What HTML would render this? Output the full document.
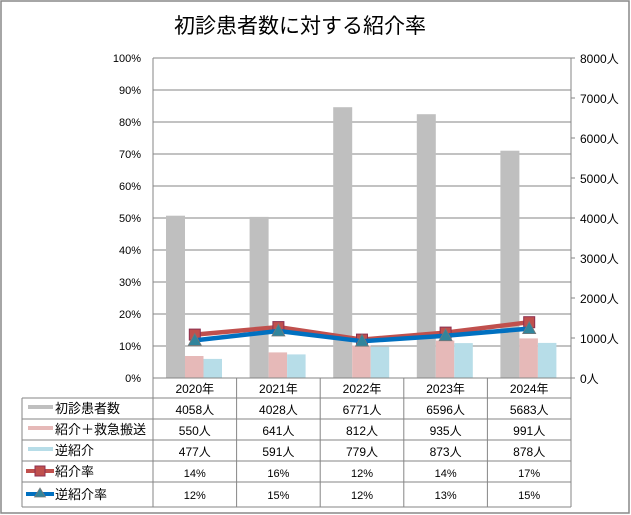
<!DOCTYPE html>
<html><head><meta charset="utf-8"><style>
body{margin:0;background:#fff}
svg{display:block;font-family:"Liberation Sans","Noto Sans CJK JP",sans-serif}
</style></head><body>
<svg width="631" height="515" viewBox="0 0 631 515" xmlns="http://www.w3.org/2000/svg">
<rect x="1" y="1" width="628" height="512" fill="#fff" stroke="#888" stroke-width="1.5"/>
<text x="300" y="33" font-size="21" text-anchor="middle" fill="#000">初診患者数に対する紹介率</text>
<g stroke="#868686" stroke-width="1">
<line x1="153" y1="58" x2="571" y2="58"/><line x1="153" y1="90" x2="571" y2="90"/>
<line x1="153" y1="122" x2="571" y2="122"/><line x1="153" y1="154" x2="571" y2="154"/>
<line x1="153" y1="186" x2="571" y2="186"/><line x1="153" y1="218" x2="571" y2="218"/>
<line x1="153" y1="250" x2="571" y2="250"/><line x1="153" y1="282" x2="571" y2="282"/>
<line x1="153" y1="314" x2="571" y2="314"/><line x1="153" y1="346" x2="571" y2="346"/>
<line x1="153" y1="58" x2="153" y2="378"/><line x1="571" y1="58" x2="571" y2="378"/>
<line x1="571" y1="58" x2="575" y2="58"/><line x1="571" y1="98" x2="575" y2="98"/>
<line x1="571" y1="138" x2="575" y2="138"/><line x1="571" y1="178" x2="575" y2="178"/>
<line x1="571" y1="218" x2="575" y2="218"/><line x1="571" y1="258" x2="575" y2="258"/>
<line x1="571" y1="298" x2="575" y2="298"/><line x1="571" y1="338" x2="575" y2="338"/>
<line x1="571" y1="378" x2="575" y2="378"/>
</g>
<g font-size="11" text-anchor="end" fill="#000">
<text x="141" y="62">100%</text><text x="141" y="94">90%</text><text x="141" y="126">80%</text>
<text x="141" y="158">70%</text><text x="141" y="190">60%</text><text x="141" y="222">50%</text>
<text x="141" y="254">40%</text><text x="141" y="286">30%</text><text x="141" y="318">20%</text>
<text x="141" y="350">10%</text><text x="141" y="382">0%</text>
</g>
<g font-size="12" fill="#000">
<text x="580" y="63">8000人</text><text x="580" y="103">7000人</text><text x="580" y="143">6000人</text>
<text x="580" y="183">5000人</text><text x="580" y="223">4000人</text><text x="580" y="263">3000人</text>
<text x="580" y="303">2000人</text><text x="580" y="343">1000人</text><text x="580" y="383">0人</text>
</g>
<g>
<!-- centers: 194.8, 278.4, 362, 445.6, 529.2 -->
<rect x="166" y="215.7" width="19" height="162.3" fill="#bfbfbf"/>
<rect x="185" y="356" width="18.5" height="22" fill="#e6b9b8"/>
<rect x="203.5" y="358.9" width="18.5" height="19.1" fill="#b7dde8"/>
<rect x="249.6" y="216.9" width="19" height="161.1" fill="#bfbfbf"/>
<rect x="268.6" y="352.4" width="18.5" height="25.6" fill="#e6b9b8"/>
<rect x="287.1" y="354.4" width="18.5" height="23.6" fill="#b7dde8"/>
<rect x="333.2" y="107.2" width="19" height="270.8" fill="#bfbfbf"/>
<rect x="352.2" y="345.5" width="18.5" height="32.5" fill="#e6b9b8"/>
<rect x="370.7" y="346.8" width="18.5" height="31.2" fill="#b7dde8"/>
<rect x="416.8" y="114.2" width="19" height="263.8" fill="#bfbfbf"/>
<rect x="435.8" y="340.6" width="18.5" height="37.4" fill="#e6b9b8"/>
<rect x="454.3" y="343.1" width="18.5" height="34.9" fill="#b7dde8"/>
<rect x="500.4" y="150.7" width="19" height="227.3" fill="#bfbfbf"/>
<rect x="519.4" y="338.4" width="18.5" height="39.6" fill="#e6b9b8"/>
<rect x="537.9" y="342.9" width="18.5" height="35.1" fill="#b7dde8"/>
</g>
<polyline points="194.8,334.6 278.4,327.1 362,339.6 445.6,332.6 529.2,322.2" fill="none" stroke="#c0504d" stroke-width="4.5" stroke-linejoin="round"/>
<g fill="#c0504d" stroke="#8c2f50" stroke-width="1">
<rect x="189.3" y="329.1" width="11" height="11"/><rect x="272.9" y="321.6" width="11" height="11"/>
<rect x="356.5" y="334.1" width="11" height="11"/><rect x="440.1" y="327.1" width="11" height="11"/>
<rect x="523.7" y="316.7" width="11" height="11"/>
</g>
<polyline points="194.8,340.4 278.4,331 362,341.2 445.6,335.7 529.2,328.6" fill="none" stroke="#0070c0" stroke-width="4.5" stroke-linejoin="round"/>
<g fill="#31859c" stroke="#777" stroke-width="0.8">
<polygon points="194.8,333.4 201.3,345.4 188.3,345.4"/><polygon points="278.4,324 284.9,336 271.9,336"/>
<polygon points="362,334.2 368.5,346.2 355.5,346.2"/><polygon points="445.6,328.7 452.1,340.7 439.1,340.7"/>
<polygon points="529.2,321.6 535.7,333.6 522.7,333.6"/>
</g>
<g stroke="#868686" stroke-width="1" fill="none">
<line x1="153" y1="378" x2="571" y2="378"/>
<line x1="22" y1="398" x2="571" y2="398"/>
<line x1="22" y1="419" x2="571" y2="419"/>
<line x1="22" y1="440" x2="571" y2="440"/>
<line x1="22" y1="461" x2="571" y2="461"/>
<line x1="22" y1="482" x2="571" y2="482"/>
<line x1="22" y1="507" x2="571" y2="507"/>
<line x1="22" y1="398" x2="22" y2="507"/>
<line x1="153" y1="378" x2="153" y2="507"/>
<line x1="236.6" y1="378" x2="236.6" y2="507"/>
<line x1="320.2" y1="378" x2="320.2" y2="507"/>
<line x1="403.8" y1="378" x2="403.8" y2="507"/>
<line x1="487.4" y1="378" x2="487.4" y2="507"/>
<line x1="571" y1="378" x2="571" y2="507"/>
</g>
<g font-size="12" text-anchor="middle" fill="#000">
<text x="194.8" y="393">2020年</text><text x="278.4" y="393">2021年</text><text x="362" y="393">2022年</text><text x="445.6" y="393">2023年</text><text x="529.2" y="393">2024年</text>
<text x="194.8" y="414">4058人</text><text x="278.4" y="414">4028人</text><text x="362" y="414">6771人</text><text x="445.6" y="414">6596人</text><text x="529.2" y="414">5683人</text>
<text x="194.8" y="435">550人</text><text x="278.4" y="435">641人</text><text x="362" y="435">812人</text><text x="445.6" y="435">935人</text><text x="529.2" y="435">991人</text>
<text x="194.8" y="456">477人</text><text x="278.4" y="456">591人</text><text x="362" y="456">779人</text><text x="445.6" y="456">873人</text><text x="529.2" y="456">878人</text>
<text x="194.8" y="477" font-size="11">14%</text><text x="278.4" y="477" font-size="11">16%</text><text x="362" y="477" font-size="11">12%</text><text x="445.6" y="477" font-size="11">14%</text><text x="529.2" y="477" font-size="11">17%</text>
<text x="194.8" y="499" font-size="11">12%</text><text x="278.4" y="499" font-size="11">15%</text><text x="362" y="499" font-size="11">12%</text><text x="445.6" y="499" font-size="11">13%</text><text x="529.2" y="499" font-size="11">15%</text>
</g>
<rect x="28" y="405" width="25" height="4" fill="#bfbfbf"/>
<rect x="28" y="426" width="25" height="4" fill="#e6b9b8"/>
<rect x="28" y="447" width="25" height="4" fill="#b7dde8"/>
<line x1="26" y1="471" x2="54" y2="471" stroke="#c0504d" stroke-width="4"/>
<rect x="35" y="466" width="10" height="10" fill="#c0504d" stroke="#8c2f50"/>
<line x1="26" y1="494" x2="54" y2="494" stroke="#0070c0" stroke-width="4"/>
<polygon points="40,488 45.5,497 34.5,497" fill="#31859c" stroke="#777" stroke-width="0.8"/>
<g font-size="13" fill="#000">
<text x="55" y="413">初診患者数</text>
<text x="55" y="434">紹介＋救急搬送</text>
<text x="55" y="455">逆紹介</text>
<text x="55" y="476">紹介率</text>
<text x="55" y="499">逆紹介率</text>
</g>
</svg>
</body></html>
